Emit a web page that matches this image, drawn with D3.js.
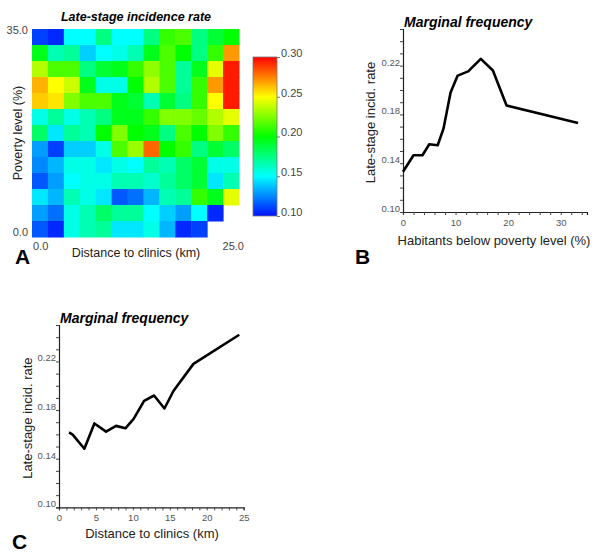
<!DOCTYPE html>
<html><head><meta charset="utf-8">
<script src="https://cdn.jsdelivr.net/npm/d3@7"></script>
<style>body{margin:0;background:#fff}svg{display:block;font-family:"Liberation Sans",Arial,sans-serif}</style>
</head><body><svg id="c" width="600" height="554"></svg>
<script>
// ---- Data ----
// Heatmap: rows from top (poverty 35%) to bottom (0%), columns from distance 0 to 25 km
const heatRows = [
  [0.110,0.105,0.150,0.150,0.175,0.150,0.150,0.175,0.210,0.215,0.175,0.190,0.200],
  [0.195,0.165,0.170,0.140,0.150,0.155,0.165,0.195,0.215,0.200,0.175,0.210,0.270],
  [0.235,0.215,0.215,0.175,0.190,0.195,0.210,0.228,0.215,0.170,0.195,0.245,0.295],
  [0.265,0.250,0.240,0.195,0.155,0.155,0.200,0.235,0.215,0.170,0.210,0.270,0.295],
  [0.260,0.255,0.225,0.215,0.215,0.195,0.190,0.165,0.190,0.175,0.210,0.250,0.295],
  [0.155,0.170,0.155,0.165,0.175,0.195,0.195,0.210,0.225,0.225,0.220,0.235,0.245],
  [0.180,0.145,0.170,0.165,0.200,0.225,0.200,0.195,0.175,0.215,0.200,0.225,0.210],
  [0.130,0.110,0.140,0.140,0.155,0.215,0.230,0.280,0.200,0.210,0.175,0.190,0.180],
  [0.125,0.135,0.155,0.155,0.145,0.155,0.150,0.170,0.165,0.180,0.190,0.155,0.155],
  [0.115,0.130,0.150,0.155,0.155,0.165,0.165,0.160,0.170,0.180,0.190,0.145,0.165],
  [0.145,0.135,0.165,0.155,0.145,0.115,0.120,0.135,0.165,0.170,0.210,0.195,0.245],
  [0.130,0.120,0.155,0.165,0.180,0.170,0.170,0.150,0.140,0.130,0.150,0.105,null],
  [0.115,0.105,0.155,0.165,0.170,0.145,0.145,0.155,0.135,0.105,0.110,null,null]
];
const colorStops = [0.10,0.15,0.20,0.25,0.30];
const colorStopColors = ["#0010ff","#00ffff","#00ff00","#ffff00","#ff0000"];
const colorbarTicks = [0.10,0.15,0.20,0.25,0.30];

// Panel B: marginal frequency vs poverty
const povX = [0,2.0,3.7,5.0,6.6,7.7,9.05,10.4,12.4,14.8,17.1,19.7,33.3];
const povY = [0.133,0.1465,0.1465,0.1555,0.1547,0.1683,0.198,0.2118,0.2153,0.2255,0.216,0.1873,0.173];
// Panel C: marginal frequency vs distance
const distX = [1.36,1.85,3.43,4.79,6.37,7.72,8.99,10.1,11.52,12.87,14.27,15.49,18.2,24.4];
const distY = [0.1617,0.1598,0.1482,0.169,0.1623,0.167,0.165,0.1727,0.1876,0.192,0.1813,0.1957,0.218,0.242];
const yTickLabels = [0.10,0.14,0.18,0.22];
const povTickLabels = [0,10,20,30];
const distTickLabels = [0,5,10,15,20,25];

// ---- Drawing ----
const svg = d3.select("#c");
const grayText = "#444";

// Panel A
const hx = d3.scaleBand().domain(d3.range(13)).range([32,239]);
const hy = d3.scaleBand().domain(d3.range(13)).range([29,237]);
const color = d3.scaleLinear().domain(colorStops).range(colorStopColors).clamp(true);
const A = svg.append("g");
heatRows.forEach((row,r)=>{
  A.selectAll(null).data(row.map((v,c)=>({v,c}))).enter().filter(d=>d.v!==null)
   .append("rect")
   .attr("x",d=>hx(d.c)).attr("y",hy(r))
   .attr("width",hx.bandwidth()+0.5).attr("height",hy.bandwidth()+0.5)
   .attr("fill",d=>color(d.v));
});
A.append("text").attr("x",136).attr("y",21).attr("text-anchor","middle")
  .attr("font-size",12.5).attr("font-weight","bold").attr("font-style","italic").text("Late-stage incidence rate");
A.append("text").attr("x",28).attr("y",34).attr("text-anchor","end").attr("font-size",11).attr("fill",grayText).text("35.0");
A.append("text").attr("x",28).attr("y",236).attr("text-anchor","end").attr("font-size",11).attr("fill",grayText).text("0.0");
A.append("text").attr("x",33).attr("y",250).attr("font-size",11).attr("fill",grayText).text("0.0");
A.append("text").attr("x",244).attr("y",250).attr("text-anchor","end").attr("font-size",11).attr("fill",grayText).text("25.0");
A.append("text").attr("x",136).attr("y",257).attr("text-anchor","middle").attr("font-size",12.5).attr("fill","#222").text("Distance to clinics (km)");
A.append("text").attr("transform","translate(22,133) rotate(-90)").attr("text-anchor","middle").attr("font-size",12.5).attr("fill","#222").text("Poverty level (%)");
A.append("text").attr("x",15).attr("y",264).attr("font-size",21).attr("font-weight","bold").text("A");

// colorbar
const cb = d3.scaleLinear().domain([0.10,0.30]).range([216,57]);
const defs = svg.append("defs");
const grad = defs.append("linearGradient").attr("id","cbg").attr("x1",0).attr("y1",1).attr("x2",0).attr("y2",0);
colorStops.forEach((s,i)=>grad.append("stop").attr("offset",(s-0.10)/0.20).attr("stop-color",colorStopColors[i]));
A.append("rect").attr("x",253).attr("y",cb(0.30)).attr("width",24).attr("height",cb(0.10)-cb(0.30))
  .attr("fill","url(#cbg)").attr("stroke","#777").attr("stroke-width",0.8);
const cbAxis = A.append("g").attr("transform","translate(277,0)")
  .call(d3.axisRight(cb).tickValues(colorbarTicks).tickFormat(d3.format(".2f")).tickSize(3).tickPadding(1));
cbAxis.select(".domain").remove();
cbAxis.selectAll("line").attr("stroke","#777");
cbAxis.selectAll("text").attr("font-size",11).attr("fill",grayText).attr("font-family","Liberation Sans, Arial, sans-serif").attr("dy","-0.05em");

// generic line panel
function linePanel(opts){
  const g = svg.append("g");
  const x = d3.scaleLinear().domain(opts.xDomain).range(opts.xRange);
  const y = d3.scaleLinear().domain([0.10,0.25]).range(opts.yRange);
  const xMinor = d3.range(opts.xDomain[0], opts.xDomain[1]+1e-9, opts.xMinorStep);
  const yMinor = d3.range(0.10,0.25+1e-9,0.01);
  const xa = g.append("g").attr("transform",`translate(0,${opts.yRange[0]})`)
    .call(d3.axisBottom(x).tickValues(xMinor).tickSize(3).tickFormat(""));
  xa.select(".domain").attr("stroke","#222").attr("stroke-width",1.2);
  xa.selectAll("line").attr("stroke","#444");
  const xl = g.append("g").attr("transform",`translate(0,${opts.yRange[0]})`)
    .call(d3.axisBottom(x).tickValues(opts.xTicks).tickSize(0).tickPadding(7));
  xl.select(".domain").remove();
  xl.selectAll("text").attr("font-size",9.5).attr("fill","#555").attr("font-family","Liberation Sans, Arial, sans-serif");
  const ya = g.append("g").attr("transform",`translate(${opts.xRange[0]},0)`)
    .call(d3.axisLeft(y).tickValues(yMinor).tickSize(3).tickFormat(""));
  ya.select(".domain").attr("stroke","#222").attr("stroke-width",1.2);
  ya.selectAll("line").attr("stroke","#444");
  const yl = g.append("g").attr("transform",`translate(${opts.xRange[0]},0)`)
    .call(d3.axisLeft(y).tickValues(yTickLabels).tickFormat(d3.format(".2f")).tickSize(0).tickPadding(3));
  yl.select(".domain").remove();
  yl.selectAll("text").attr("font-size",9.5).attr("fill","#555").attr("font-family","Liberation Sans, Arial, sans-serif").attr("dy","-0.05em");
  const line = d3.line().x(d=>x(d[0])).y(d=>y(d[1]));
  g.append("path").datum(opts.xs.map((v,i)=>[v,opts.ys[i]]))
    .attr("d",line).attr("fill","none").attr("stroke","#000").attr("stroke-width",2.6).attr("stroke-linejoin","round");
  g.append("text").attr("x",opts.xRange[0]+1).attr("y",opts.titleY).attr("font-size",14).attr("font-weight","bold").attr("font-style","italic").text("Marginal frequency");
  g.append("text").attr("transform",`translate(${opts.yLabelX},${(opts.yRange[0]+opts.yRange[1])/2+2}) rotate(-90)`)
    .attr("text-anchor","middle").attr("font-size",13).attr("fill","#222").text("Late-stage incid. rate");
  g.append("text").attr("x",opts.xLabelX).attr("y",opts.xLabelY).attr("text-anchor","middle").attr("font-size",13).attr("fill","#222").text(opts.xLabel);
  g.append("text").attr("x",opts.letterX).attr("y",opts.letterY).attr("font-size",21).attr("font-weight","bold").text(opts.letter);
}
linePanel({xDomain:[0,35],xRange:[403,587],yRange:[212,29],xMinorStep:2,xTicks:povTickLabels,
  xs:povX,ys:povY,titleY:27,yLabelX:375,xLabel:"Habitants below poverty level (%)",xLabelX:494,xLabelY:245,letter:"B",letterX:355,letterY:264});
linePanel({xDomain:[0,25],xRange:[59,243.7],yRange:[507.3,325],xMinorStep:1,xTicks:distTickLabels,
  xs:distX,ys:distY,titleY:323,yLabelX:32,xLabel:"Distance to clinics (km)",xLabelX:152,xLabelY:538,letter:"C",letterX:12,letterY:549});
</script></body></html>
